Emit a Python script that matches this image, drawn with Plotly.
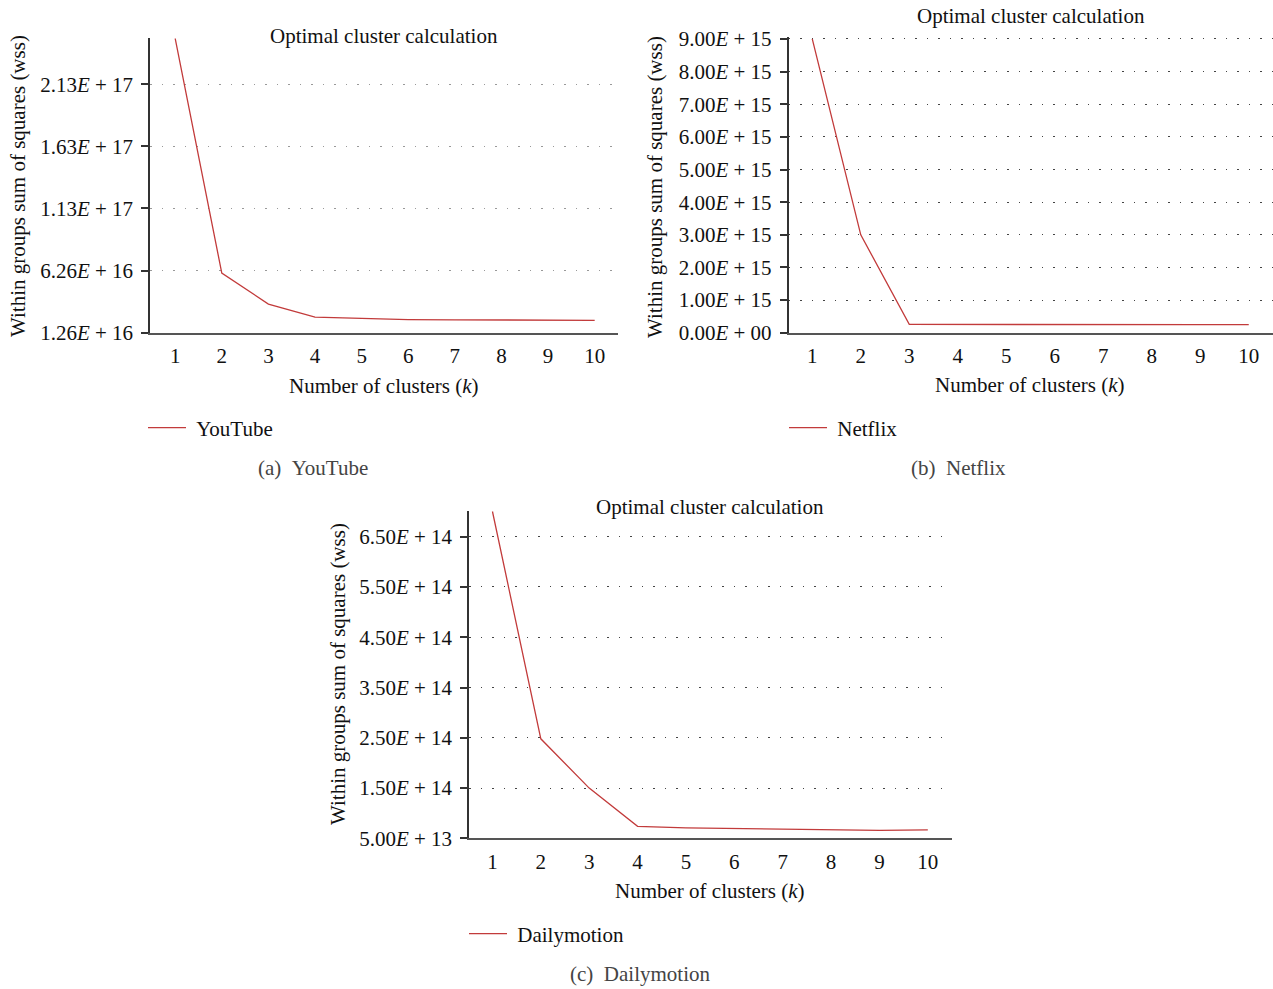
import plotly.graph_objects as go

# ---------------- data ----------------
k = [1, 2, 3, 4, 5, 6, 7, 8, 9, 10]
youtube = [2.50e17, 6.07e16, 3.57e16, 2.52e16, 2.42e16, 2.32e16, 2.30e16, 2.29e16, 2.27e16, 2.26e16]
netflix = [9.0e15, 3.0e15, 2.55e14, 2.50e14, 2.47e14, 2.46e14, 2.45e14, 2.45e14, 2.45e14, 2.45e14]
dailymotion = [7.0e14, 2.48e14, 1.50e14, 7.4e13, 7.1e13, 7.0e13, 6.8e13, 6.8e13, 6.6e13, 6.7e13]

yt_ticks = [1.26e16, 6.26e16, 1.13e17, 1.63e17, 2.13e17]
yt_text = ["1.26<i>E</i> + 16", "6.26<i>E</i> + 16", "1.13<i>E</i> + 17", "1.63<i>E</i> + 17", "2.13<i>E</i> + 17"]
nf_ticks = [0, 1e15, 2e15, 3e15, 4e15, 5e15, 6e15, 7e15, 8e15, 9e15]
nf_text = ["0.00<i>E</i> + 00", "1.00<i>E</i> + 15", "2.00<i>E</i> + 15", "3.00<i>E</i> + 15", "4.00<i>E</i> + 15",
           "5.00<i>E</i> + 15", "6.00<i>E</i> + 15", "7.00<i>E</i> + 15", "8.00<i>E</i> + 15", "9.00<i>E</i> + 15"]
dm_ticks = [5.0e13, 1.5e14, 2.5e14, 3.5e14, 4.5e14, 5.5e14, 6.5e14]
dm_text = ["5.00<i>E</i> + 13", "1.50<i>E</i> + 14", "2.50<i>E</i> + 14", "3.50<i>E</i> + 14",
           "4.50<i>E</i> + 14", "5.50<i>E</i> + 14", "6.50<i>E</i> + 14"]

series_names = ["YouTube", "Netflix", "Dailymotion"]
captions = ["(a)&#8194;YouTube", "(b)&#8194;Netflix", "(c)&#8194;Dailymotion"]
title_text = "Optimal cluster calculation"
xtitle_text = "Number of clusters (<i>k</i>)"
ytitle_text = "Within groups sum of squares (wss)"

W, H = 1273, 989
FONT = "Liberation Serif"
FS = 21
RED = "#c23b3b"


def px(x):
    return x / W


def py(y):
    return 1 - y / H


fig = go.Figure()
fig.add_trace(go.Scatter(x=k, y=youtube, mode="lines", name="\u2005" + series_names[0],
                         line=dict(color=RED, width=1.3), xaxis="x", yaxis="y", legend="legend"))
fig.add_trace(go.Scatter(x=k, y=netflix, mode="lines", name="\u2005" + series_names[1],
                         line=dict(color=RED, width=1.3), xaxis="x2", yaxis="y2", legend="legend2"))
fig.add_trace(go.Scatter(x=k, y=dailymotion, mode="lines", name="\u2005" + series_names[2],
                         line=dict(color=RED, width=1.3), xaxis="x3", yaxis="y3", legend="legend3"))


def xaxis(dom, rng, anchor):
    return dict(domain=dom, range=rng, anchor=anchor, tickvals=k, showgrid=False, zeroline=False,
                showline=True, linecolor="#555", linewidth=2, ticks="outside", ticklen=3,
                tickcolor="rgba(0,0,0,0)", tickfont=dict(family=FONT, size=FS, color="#111"),
                fixedrange=True, automargin=False)


def yaxis(dom, rng, anchor, tv, tt, gcol):
    return dict(domain=dom, range=rng, anchor=anchor, tickvals=tv, ticktext=tt, showgrid=True,
                gridcolor=gcol, griddash="1.5px,10px", gridwidth=1.3, zeroline=False,
                showline=True, linecolor="#333", linewidth=1.5, ticks="outside", ticklen=7,
                tickwidth=1.5, tickcolor="#333", ticklabelstandoff=4,
                tickfont=dict(family=FONT, size=FS, color="#111"), fixedrange=True, automargin=False)


leg = dict(xanchor="left", yanchor="middle", font=dict(family=FONT, size=FS, color="#111"),
           bgcolor="rgba(0,0,0,0)", itemwidth=38)

fig.update_layout(
    width=W, height=H, margin=dict(l=0, r=0, t=0, b=0, autoexpand=False),
    paper_bgcolor="white", plot_bgcolor="white",
    font=dict(family=FONT, size=FS, color="#111"),
    xaxis=xaxis([px(150), px(618)], [0.46, 10.5], "y"),
    yaxis=yaxis([py(332.7), py(38.3)], [1.26e16, 2.50e17], "x", yt_ticks, yt_text, "#999"),
    xaxis2=xaxis([px(788.5), 1.0], [0.51, 10.5], "y2"),
    yaxis2=yaxis([py(332.7), py(37)], [0, 9.06e15], "x2", nf_ticks, nf_text, "#444"),
    xaxis3=xaxis([px(469), px(952)], [0.515, 10.5], "y3"),
    yaxis3=yaxis([py(838.4), py(511)], [5.0e13, 7.01e14], "x3", dm_ticks, dm_text, "#444"),
    showlegend=True,
    legend=dict(x=px(143), y=py(428), **leg),
    legend2=dict(x=px(784), y=py(428), **leg),
    legend3=dict(x=px(464), y=py(934), **leg),
)

ann = []


def add_text(x, y, text, angle=0, color="#111"):
    ann.append(dict(x=px(x), y=py(y), xref="paper", yref="paper", text=text, showarrow=False,
                    xanchor="center", yanchor="middle", textangle=angle,
                    font=dict(family=FONT, size=FS, color=color)))


# titles
add_text(384, 36, title_text)
add_text(1031, 16, title_text)
add_text(710, 507, title_text)
# x titles
add_text(384, 386, xtitle_text)
add_text(1030, 385, xtitle_text)
add_text(710, 891, xtitle_text)
# y titles
add_text(18, 186, ytitle_text, -90)
add_text(655, 187, ytitle_text, -90)
add_text(338, 674, ytitle_text, -90)
# captions
add_text(313, 468, captions[0], color="#444")
add_text(958, 468, captions[1], color="#444")
add_text(640, 974, captions[2], color="#444")

fig.update_layout(annotations=ann)
fig.write_html("out.html", config={"displayModeBar": False},
               post_script="document.body.style.margin='0';document.documentElement.style.overflow='hidden';")
